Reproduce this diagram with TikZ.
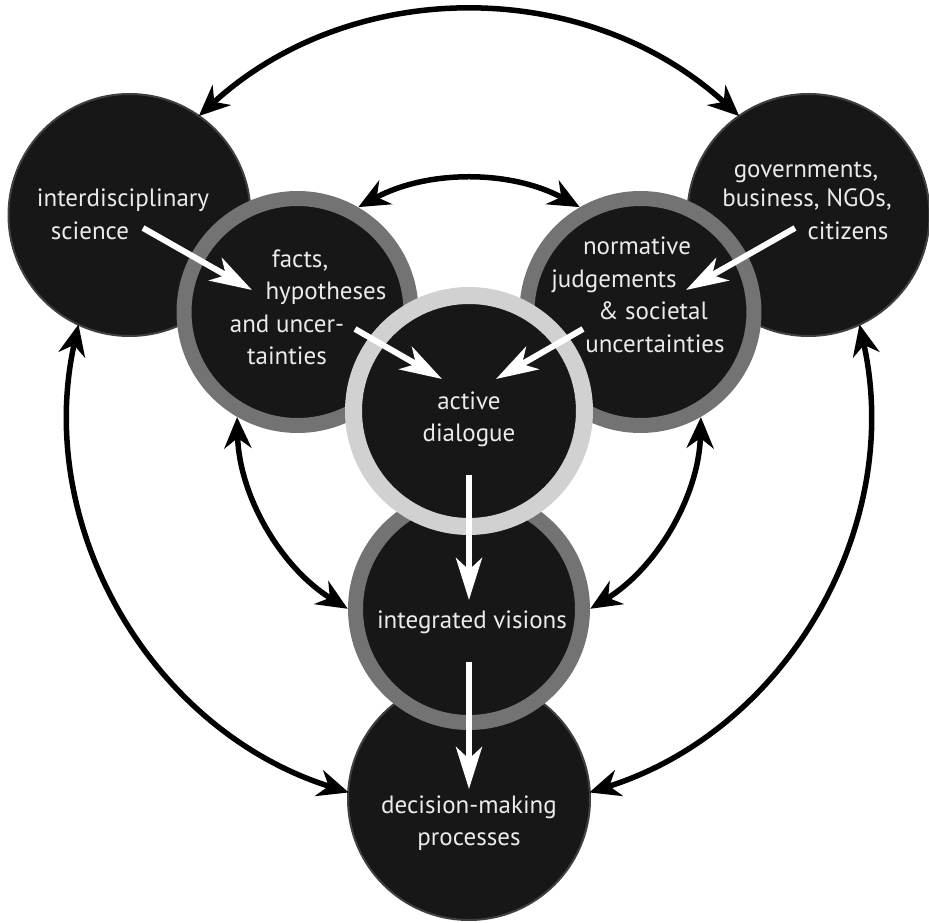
\documentclass[tikz,border=0pt]{standalone}
\usepackage{fontspec}
\setmainfont{PT Sans}
\usetikzlibrary{arrows.meta}
\begin{document}
\begin{tikzpicture}[x=1pt,y=1pt,
  outerdisc/.style={circle, inner sep=0pt, minimum size=242pt, fill=black!91, draw=black!75, line width=2pt},
  ringdisc/.style={circle, inner sep=0pt, minimum size=227pt, fill=black!91, draw=black!55, line width=15pt},
  hubdisc/.style={circle, inner sep=0pt, minimum size=231pt, fill=black!91, draw=black!18, line width=17pt},
  lbl/.style={text=white!92!black, font=\fontsize{25}{29}\selectfont, inner sep=0pt, anchor=base},
  blink/.style={draw=black, line width=5.5pt, {Stealth[length=31pt,width=27pt,inset=10pt]}-{Stealth[length=31pt,width=27pt,inset=10pt]}},
  wlink/.style={draw=white, line width=6pt, -{Stealth[length=42pt,width=26pt,inset=12pt]}}
]
\useasboundingbox (-469,-512) rectangle (460,411);

% outer ring of actors
\node[outerdisc] (tl) at (150:392) {};
\node[outerdisc] (tr) at (30:392) {};
\node[outerdisc] (dm) at (0,-388) {};
% inner ring of knowledge circles
\node[ringdisc] (iv) at (270:198) {};
\node[ringdisc] (fa) at (150:198) {};
\node[ringdisc] (no) at (30:198) {};
% hub
\node[hubdisc] (ad) at (0,0) {};

% two-way links on the outer circle (radius 400) and the inner circle (radius 232)
\path (ad.center) ++(132.5:400) coordinate (o1s);
\path (ad.center) ++(167.5:400) coordinate (o2s);
\path (ad.center) ++(287.5:400) coordinate (o3s);
\path (ad.center) ++(118.5:232) coordinate (i1s);
\path (ad.center) ++(181.5:232) coordinate (i2s);
\path (ad.center) ++(301.5:232) coordinate (i3s);
\draw[blink] (o1s) arc[start angle=132.5, end angle=47.5, radius=400];
\draw[blink] (o2s) arc[start angle=167.5, end angle=252.5, radius=400];
\draw[blink] (o3s) arc[start angle=287.5, end angle=372.5, radius=400];
\draw[blink] (i1s) arc[start angle=118.5, end angle=61.5, radius=232];
\draw[blink] (i2s) arc[start angle=181.5, end angle=238.5, radius=232];
\draw[blink] (i3s) arc[start angle=301.5, end angle=358.5, radius=232];

% flows towards the hub and down to decisions
\coordinate (w1s) at (-326,183); \coordinate (w1e) at (-217,121);
\coordinate (w2s) at (-114,82);  \coordinate (w2e) at (-27,32);
\coordinate (w3s) at (114,82);   \coordinate (w3e) at (27,32);
\coordinate (w4s) at (326,183);  \coordinate (w4e) at (217,121);
\coordinate (w5s) at (0,-64);    \coordinate (w5e) at (0,-189);
\coordinate (w6s) at (0,-251);   \coordinate (w6e) at (0,-378);
\draw[wlink] (w1s) -- (w1e);
\draw[wlink] (w2s) -- (w2e);
\draw[wlink] (w3s) -- (w3e);
\draw[wlink] (w4s) -- (w4e);
\draw[wlink] (w5s) -- (w5e);
\draw[wlink] (w6s) -- (w6e);

% labels
\node[lbl] (tl1) at (-346,204) {interdisciplinary};
\node[lbl] (tl2) at (-379,171) {science};
\node[lbl] (tr1) at (337,233) {governments,};
\node[lbl] (tr2) at (338,204) {business, NGOs,};
\node[lbl] (tr3) at (379,171) {citizens};
\node[lbl] (fa1) at (-169,143) {facts,};
\node[lbl] (fa2) at (-143,111) {hypotheses};
\node[lbl] (fa3) at (-182,78) {and uncer-};
\node[lbl] (fa4) at (-182,46) {tainties};
\node[lbl] (no1) at (168,156) {normative};
\node[lbl] (no2) at (145,123) {judgements};
\node[lbl] (no3) at (184,91) {\& societal};
\node[lbl] (no4) at (186,58) {uncertainties};
\node[lbl] (ad1) at (0,1) {active};
\node[lbl] (ad2) at (0,-31) {dialogue};
\node[lbl] (iv1) at (3,-217) {integrated visions};
\node[lbl] (dm1) at (0,-402) {decision-making};
\node[lbl] (dm2) at (0,-434) {processes};
\end{tikzpicture}
\end{document}
